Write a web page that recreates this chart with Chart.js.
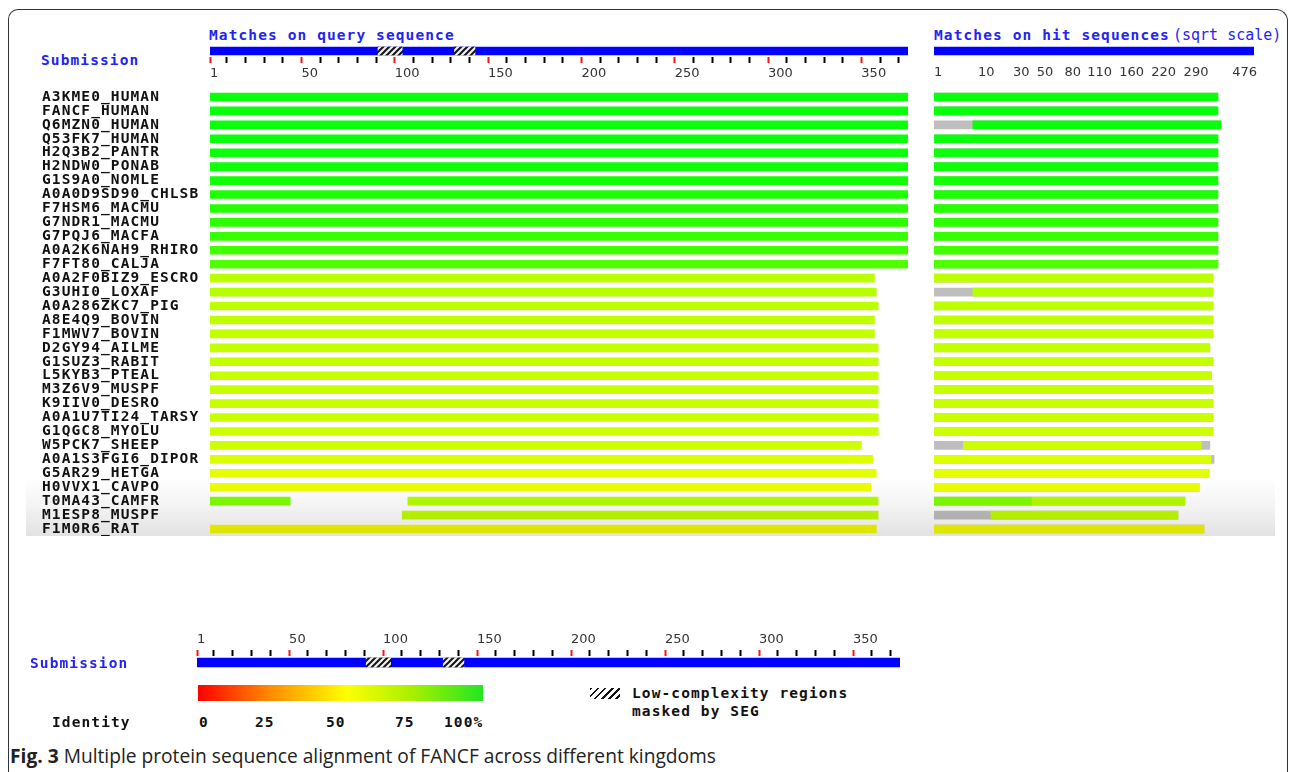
<!DOCTYPE html>
<html>
<head>
<meta charset="utf-8">
<title>FANCF multiple alignment</title>
<script src="https://cdn.jsdelivr.net/npm/chart.js@4.4.1/dist/chart.umd.min.js"></script>
<style>
  html, body { margin: 0; padding: 0; background: #fff; }
  #page { position: relative; width: 1290px; height: 772px; overflow: hidden; background: #fff; }
  .box { position: absolute; }
  .box canvas { display: block; }
  .lbl { position: absolute; font-family: "DejaVu Sans Mono", monospace; font-weight: bold; font-size: 14.5px;
         letter-spacing: 1.1px; line-height: 16px; white-space: nowrap; color: #111; }
  .blue { color: #2424f0; }
  .thin { font-weight: normal; font-size: 15px; letter-spacing: 0; }
  #frame { position: absolute; left: 8px; top: 9px; width: 1280px; height: 800px; box-sizing: border-box;
           border: 1.5px solid #333; border-bottom: none; border-radius: 10px 12px 0 0; }
  #fade { position: absolute; left: 26px; top: 478px; width: 1249px; height: 58px; pointer-events: none;
          background: linear-gradient(to bottom, #ffffff 0%, #f3f3f3 50%, #e2e2e2 100%); mix-blend-mode: multiply; }
  #identityBar { position: absolute; left: 198px; top: 685px; width: 285px; height: 16px;
                 background: linear-gradient(to right, #ff0000 0%, #ff8a00 25%, #ffff00 52%, #a8f000 75%, #22e622 100%); }
  #hatchKey { position: absolute; left: 590px; top: 688px; width: 30px; height: 11px;
              background: repeating-linear-gradient(135deg, #111 0 2px, #fff 2px 5px); }
  #caption { position: absolute; left: 10px; top: 746px; font-family: "Open Sans", sans-serif; font-size: 20px;
             line-height: 20px; color: #222; white-space: nowrap; transform-origin: 0 0; }
</style>
</head>
<body>
<div id="page">
  <div id="frame"></div>

  <div class="lbl blue" style="left:209px; top:27px;">Matches on query sequence</div>
  <div class="lbl blue" style="left:934px; top:27px;">Matches on hit sequences<span class="thin" style="margin-left:-6px;"> (sqrt scale)</span></div>
  <div class="lbl blue" style="left:41px; top:52px;">Submission</div>

  <div class="box" style="left:0; top:40px;"><canvas id="queryRuler" width="920" height="40"></canvas></div>
  <div class="box" style="left:920px; top:40px;"><canvas id="hitRuler" width="370" height="40"></canvas></div>
  <div class="box" style="left:0; top:88px;"><canvas id="queryChart" width="920" height="448"></canvas></div>
  <div class="box" style="left:920px; top:88px;"><canvas id="hitChart" width="370" height="448"></canvas></div>
  <div id="fade"></div>

  <div class="box" style="left:0; top:625px;"><canvas id="legendRuler" width="920" height="45"></canvas></div>
  <div class="lbl blue" style="left:30px; top:655px;">Submission</div>

  <div id="identityBar"></div>
  <div class="lbl" style="left:52px; top:714px;">Identity</div>
  <div class="lbl" style="left:199px; top:714px;">0</div>
  <div class="lbl" style="left:255px; top:714px;">25</div>
  <div class="lbl" style="left:326px; top:714px;">50</div>
  <div class="lbl" style="left:395px; top:714px;">75</div>
  <div class="lbl" style="left:444px; top:714px;">100%</div>

  <div id="hatchKey"></div>
  <div class="lbl" style="left:632px; top:685px;">Low-complexity regions</div>
  <div class="lbl" style="left:632px; top:703px;">masked by SEG</div>

  <div id="caption"><b>Fig. 3</b> Multiple protein sequence alignment of FANCF across different kingdoms</div>
</div>

<script>
// hits, top to bottom
const hitNames = ['A3KME0_HUMAN', 'FANCF_HUMAN', 'Q6MZN0_HUMAN', 'Q53FK7_HUMAN', 'H2Q3B2_PANTR', 'H2NDW0_PONAB',
  'G1S9A0_NOMLE', 'A0A0D9SD90_CHLSB', 'F7HSM6_MACMU', 'G7NDR1_MACMU', 'G7PQJ6_MACFA', 'A0A2K6NAH9_RHIRO',
  'F7FT80_CALJA', 'A0A2F0BIZ9_ESCRO', 'G3UHI0_LOXAF', 'A0A286ZKC7_PIG', 'A8E4Q9_BOVIN', 'F1MWV7_BOVIN',
  'D2GY94_AILME', 'G1SUZ3_RABIT', 'L5KYB3_PTEAL', 'M3Z6V9_MUSPF', 'K9IIV0_DESRO', 'A0A1U7TI24_TARSY',
  'G1QGC8_MYOLU', 'W5PCK7_SHEEP', 'A0A1S3FGI6_DIPOR', 'G5AR29_HETGA', 'H0VVX1_CAVPO', 'T0MA43_CAMFR',
  'M1ESP8_MUSPF', 'F1M0R6_RAT'];

// matched range on the query (residues)
const queryFrom = [1, 1, 1, 1, 1, 1, 1, 1, 1, 1, 1, 1, 1, 1, 1, 1, 1, 1, 1, 1, 1, 1, 1, 1, 1, 1, 1, 1, 1, 1, 104, 1];
const queryTo = [375, 375, 375, 375, 375, 375, 375, 375, 375, 375, 375, 375, 375, 357, 358, 359, 357, 357,
  359, 359, 359, 359, 359, 359, 359, 350, 356, 358, 355, 44, 359, 358];
// second matched piece (only T0MA43_CAMFR has one)
const queryFrom2 = [null, null, null, null, null, null, null, null, null, null, null, null, null, null, null, null,
  null, null, null, null, null, null, null, null, null, null, null, null, null, 107, null, null];
const queryTo2 = [null, null, null, null, null, null, null, null, null, null, null, null, null, null, null, null,
  null, null, null, null, null, null, null, null, null, null, null, null, null, 359, null, null];

// hit sequences (sqrt scale): whole length, then matched range
const hitLength = [375, 375, 383, 375, 375, 375, 375, 375, 375, 375, 375, 375, 375, 362, 362, 362, 362, 362,
  354, 362, 358, 362, 362, 362, 362, 354, 365, 352, 327, 293, 277, 339];
const hitFrom = [1, 1, 8, 1, 1, 1, 1, 1, 1, 1, 1, 1, 1, 1, 8, 1, 1, 1, 1, 1, 1, 1, 1, 1, 1, 5, 1, 1, 1, 1, 16, 1];
const hitTo = [375, 375, 383, 375, 375, 375, 375, 375, 375, 375, 375, 375, 375, 362, 362, 362, 362, 362,
  354, 362, 358, 362, 362, 362, 362, 332, 357, 352, 327, 45, 277, 339];
const hitFrom2 = [null, null, null, null, null, null, null, null, null, null, null, null, null, null, null, null,
  null, null, null, null, null, null, null, null, null, null, null, null, null, 45, null, null];
const hitTo2 = [null, null, null, null, null, null, null, null, null, null, null, null, null, null, null, null,
  null, null, null, null, null, null, null, null, null, null, null, null, null, 293, null, null];

// submission ruler
const submissionRange = [1, 375];
const lowComplexityStart = [91, 132];
const lowComplexityEnd = [104, 143];
const rulerTicks = [1, 10, 20, 30, 40, 50, 60, 70, 80, 90, 100, 110, 120, 130, 140, 150, 160, 170, 180, 190,
  200, 210, 220, 230, 240, 250, 260, 270, 280, 290, 300, 310, 320, 330, 340, 350, 360, 370];
const rulerLabels = [1, 50, 100, 150, 200, 250, 300, 350];

// hit ruler
const hitRange = [1, 476];
const hitTicks = [1, 10, 30, 50, 80, 110, 160, 220, 290, 476];

// identity colours of the pieces
const rowColors = ['#0aff0a', '#0aff0a', '#0aff0a', '#0aff0a', '#0cff0a', '#0eff08', '#12ff06', '#1cff04',
  '#26ff00', '#2eff00', '#36ff00', '#42ff00', '#50ff00', '#bbff00', '#b4ff00', '#bcff00', '#bfff00', '#c2ff00',
  '#c4ff00', '#c4ff00', '#c6ff00', '#c8ff00', '#c8ff00', '#caff00', '#ccff00', '#ccff00', '#dcff00', '#e4ff00',
  '#eeff00', '#80ff00', '#c0ff00', '#f6ff00'];
const secondColor = '#b6ff00';
const unalignedColor = '#bebebe';

Chart.defaults.animation = false;
Chart.defaults.events = [];
Chart.defaults.plugins.legend.display = false;
Chart.defaults.plugins.tooltip.enabled = false;
Chart.defaults.font.family = '"DejaVu Sans", sans-serif';

// sqrt scale for the hit panel, position grows with sqrt(value - min)
class SqrtScale extends Chart.LinearScale {
  getPixelForValue(value) {
    const span = Math.sqrt(this.max - this.min);
    return this.getPixelForDecimal(Math.sqrt(Math.max(0, value - this.min)) / span);
  }
  getValueForPixel(pixel) {
    const d = this.getDecimalForPixel(pixel) * Math.sqrt(this.max - this.min);
    return this.min + d * d;
  }
}
SqrtScale.id = 'sqrt';
SqrtScale.defaults = Chart.LinearScale.defaults;
Chart.register(SqrtScale);

function hatchPattern() {
  const c = document.createElement('canvas');
  c.width = 6; c.height = 6;
  const g = c.getContext('2d');
  g.fillStyle = '#f0f0f0';
  g.fillRect(0, 0, 6, 6);
  g.strokeStyle = '#151515';
  g.lineWidth = 2;
  g.beginPath();
  g.moveTo(-1, 7); g.lineTo(7, -1);
  g.moveTo(-4, 4); g.lineTo(4, -4);
  g.moveTo(2, 10); g.lineTo(10, 2);
  g.stroke();
  return g.createPattern(c, 'repeat');
}
const hatch = hatchPattern();

function rulerDatasets(range, thickness) {
  const sets = lowComplexityStart.map((s, i) => ({
    data: [[s, lowComplexityEnd[i]]], backgroundColor: hatch, barThickness: thickness, grouped: false, order: 0
  }));
  sets.push({ data: [range], backgroundColor: '#0000ff', barThickness: thickness, grouped: false, order: 1 });
  return sets;
}

function pairs(from, to) {
  return from.map((f, i) => (f == null ? null : [f, to[i]]));
}

function rulerAxis(position, height) {
  return {
    type: 'linear', position: position, min: submissionRange[0], max: submissionRange[1],
    afterBuildTicks: s => { s.ticks = rulerTicks.map(v => ({ value: v })); },
    afterFit: s => { s.height = height; },
    grid: {
      drawOnChartArea: false, tickLength: 6, tickWidth: 2,
      tickColor: c => (c.tick && rulerLabels.includes(c.tick.value) ? '#ff1010' : '#000000')
    },
    border: { display: false },
    ticks: {
      autoSkip: false, maxRotation: 0, minRotation: 0, align: 'start', padding: 3, color: '#333',
      font: { size: 13 }, callback: v => (rulerLabels.includes(v) ? String(v) : '')
    }
  };
}

// top ruler, query
new Chart(document.getElementById('queryRuler'), {
  type: 'bar',
  data: { labels: ['Submission'], datasets: rulerDatasets(submissionRange, 8) },
  options: {
    indexAxis: 'y', responsive: false,
    layout: { padding: { left: 210, right: 12, top: 5, bottom: 0 } },
    scales: { y: { display: false }, x: rulerAxis('bottom', 23) }
  }
});

// top ruler, hits (labels clamped inside the bar like the original)
const hitAxisLabels = {
  id: 'hitAxisLabels',
  afterDraw(chart) {
    const sc = chart.scales.x, ctx = chart.ctx;
    ctx.save();
    ctx.font = '13px "DejaVu Sans"';
    ctx.fillStyle = '#333';
    ctx.textBaseline = 'top';
    ctx.textAlign = 'left';
    hitTicks.forEach(v => {
      const t = String(v);
      const w = ctx.measureText(t).width;
      const x = Math.min(sc.getPixelForValue(v), sc.right + 3 - w);
      ctx.fillText(t, x, chart.chartArea.bottom + 9);
    });
    ctx.restore();
  }
};
new Chart(document.getElementById('hitRuler'), {
  type: 'bar',
  data: { labels: ['hits'], datasets: [{ data: [hitRange], backgroundColor: '#0000ff', barThickness: 8 }] },
  options: {
    indexAxis: 'y', responsive: false,
    layout: { padding: { left: 14, right: 36, top: 5, bottom: 23 } },
    scales: {
      y: { display: false },
      x: { type: 'sqrt', display: false, min: hitRange[0], max: hitRange[1] }
    }
  },
  plugins: [hitAxisLabels]
});

// the row names are a wide, short bitmap face in the original
const spacedLabels = {
  id: 'spacedLabels',
  beforeDraw(chart) { chart.ctx.letterSpacing = '1.1px'; }
};

// query panel
new Chart(document.getElementById('queryChart'), {
  type: 'bar',
  data: {
    labels: hitNames,
    datasets: [
      { data: pairs(queryFrom, queryTo), backgroundColor: rowColors, barThickness: 8, grouped: false },
      { data: pairs(queryFrom2, queryTo2), backgroundColor: secondColor, barThickness: 8, grouped: false }
    ]
  },
  options: {
    indexAxis: 'y', responsive: false,
    layout: { padding: { left: 42, right: 12, top: 2, bottom: 0 } },
    scales: {
      x: { type: 'linear', display: false, min: submissionRange[0], max: submissionRange[1] },
      y: {
        position: 'left',
        grid: { display: false, drawTicks: false },
        border: { display: false },
        // keep the rows on the same grid as the hit panel
        afterFit: s => { s.width = 168; s.paddingTop = 0; s.paddingBottom = 0; },
        ticks: {
          autoSkip: false, crossAlign: 'far', padding: 0, color: '#111',
          font: { family: '"DejaVu Sans Mono", monospace', size: 14.5, weight: 'bold' }
        }
      }
    }
  },
  plugins: [spacedLabels]
});

// hit panel
new Chart(document.getElementById('hitChart'), {
  type: 'bar',
  data: {
    labels: hitNames,
    datasets: [
      { data: pairs(hitFrom, hitTo), backgroundColor: rowColors, barThickness: 8, grouped: false, order: 0 },
      { data: pairs(hitFrom2, hitTo2), backgroundColor: secondColor, barThickness: 8, grouped: false, order: 0 },
      { data: hitLength.map(l => [hitRange[0], l]), backgroundColor: unalignedColor, barThickness: 8,
        grouped: false, order: 1 }
    ]
  },
  options: {
    indexAxis: 'y', responsive: false,
    layout: { padding: { left: 14, right: 36, top: 2, bottom: 0 } },
    scales: {
      x: { type: 'sqrt', display: false, min: hitRange[0], max: hitRange[1] },
      y: { display: false }
    }
  }
});

// bottom legend ruler
new Chart(document.getElementById('legendRuler'), {
  type: 'bar',
  data: { labels: ['Submission'], datasets: rulerDatasets(submissionRange, 9) },
  options: {
    indexAxis: 'y', responsive: false,
    layout: { padding: { left: 197, right: 20, top: 0, bottom: 1 } },
    scales: { y: { display: false }, x: rulerAxis('top', 31) }
  }
});

// caption is set in a narrower face in the original
const cap = document.getElementById('caption');
cap.style.transform = 'scaleX(' + (706 / cap.getBoundingClientRect().width) + ')';
</script>
</body>
</html>
